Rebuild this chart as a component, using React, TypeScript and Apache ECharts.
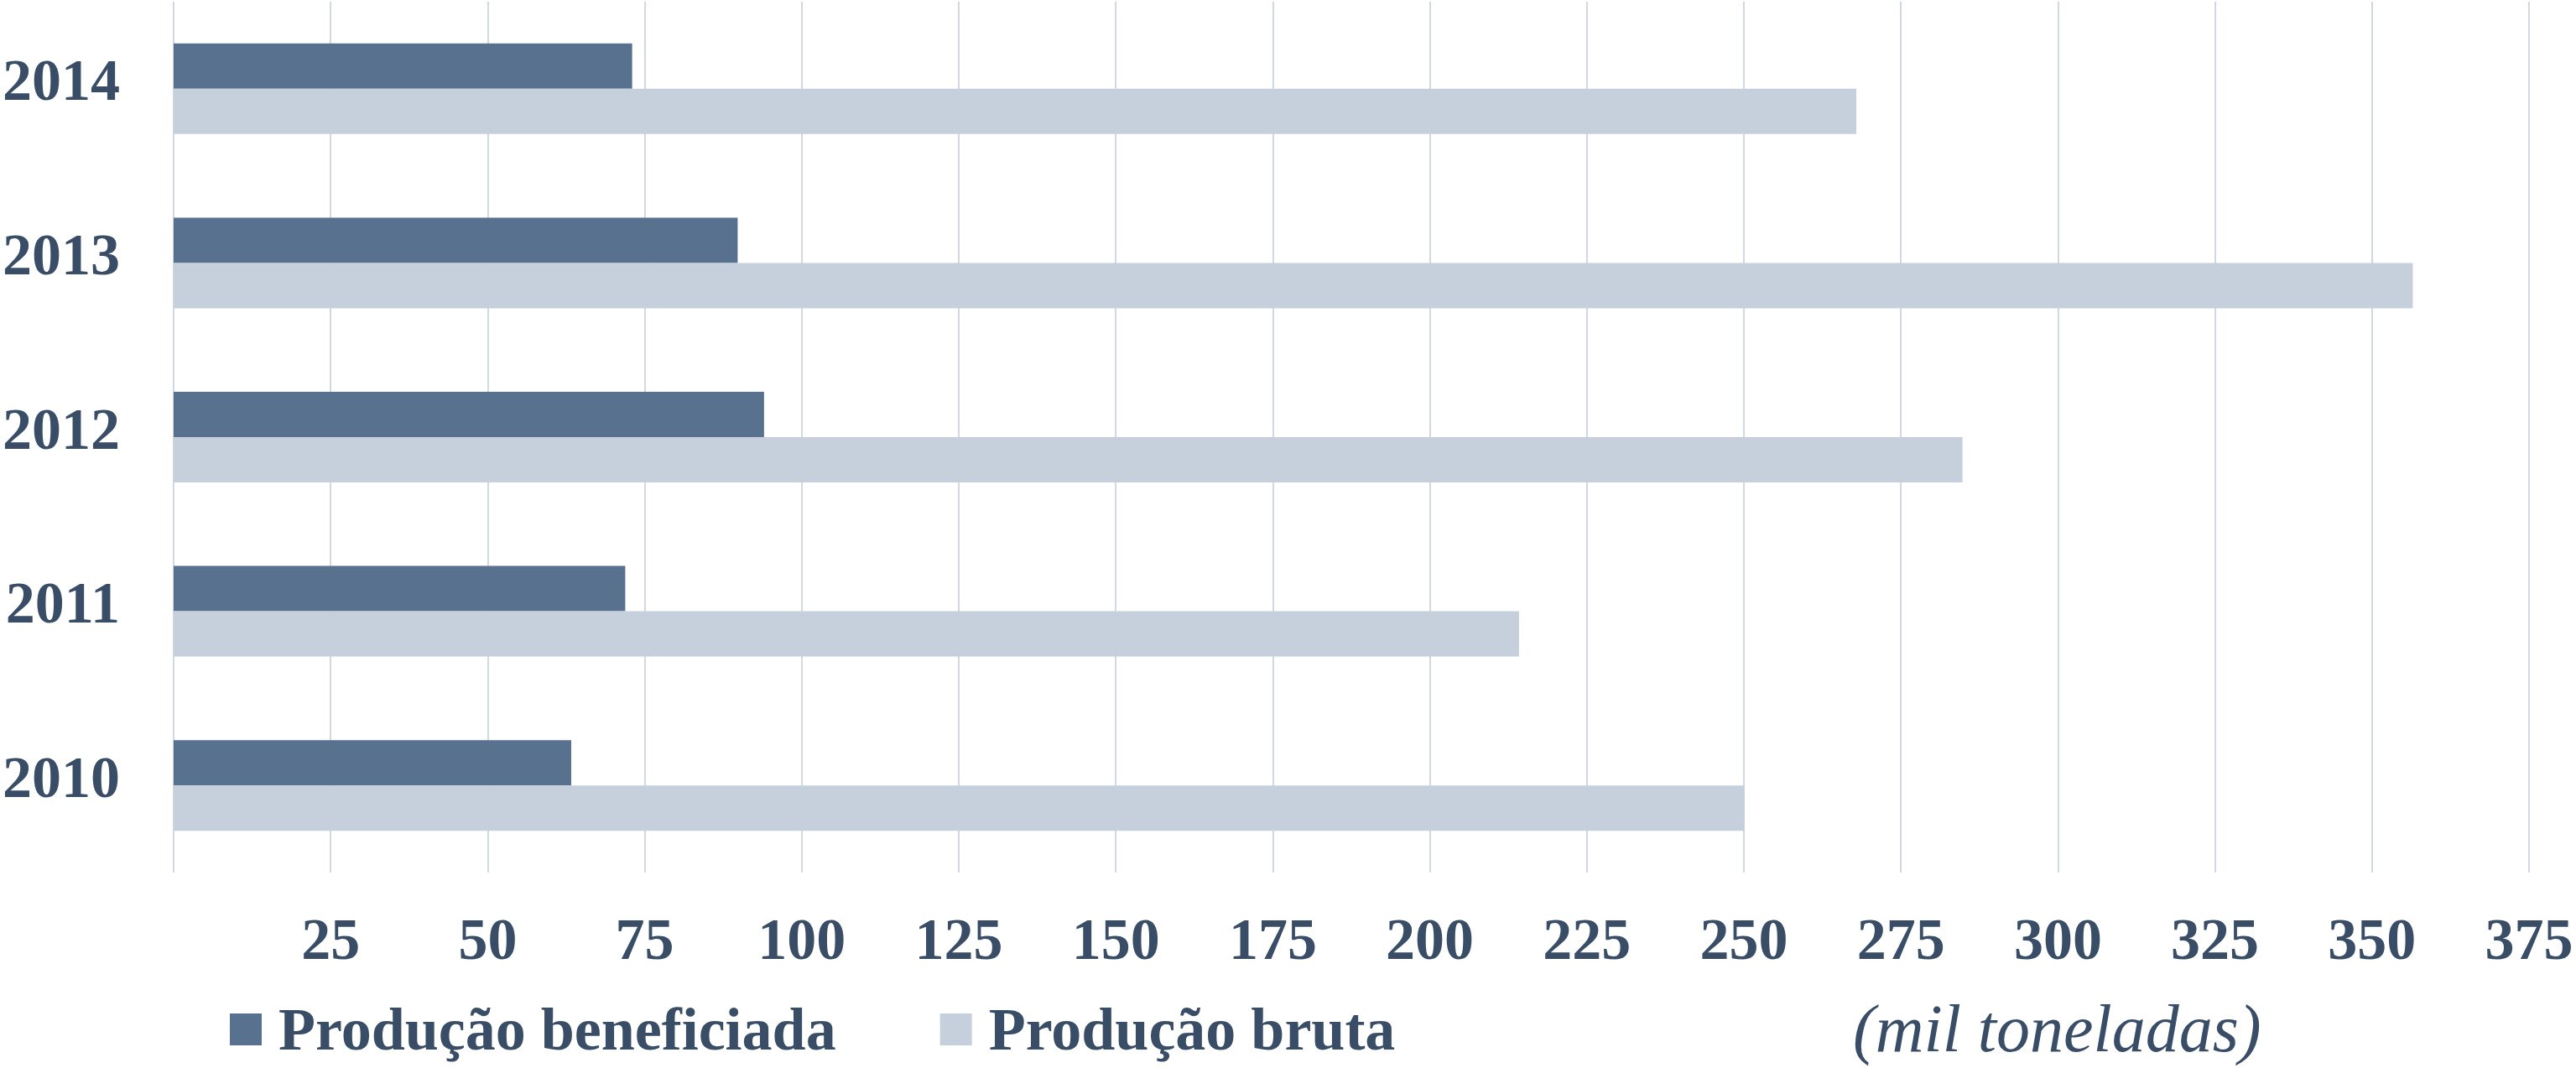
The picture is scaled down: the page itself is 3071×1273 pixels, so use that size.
import React, { useEffect, useRef } from "react";
import * as echarts from "echarts";

const years = ["2010", "2011", "2012", "2013", "2014"];
const beneficiada = [63.3, 71.9, 94.0, 89.8, 73.0];
const bruta = [250.1, 214.2, 284.8, 356.5, 267.9];
const seriesNames = ["Produção beneficiada", "Produção bruta"];
const unitLabel = "(mil toneladas)";

const TEXT = "#3a4d66";
const DARK = "#58718f";
const LIGHT = "#c6d0dc";
const GRID = "#d1d8e3";
const FONT = '"Liberation Serif", "DejaVu Serif", serif';

export default function App() {
  const ref = useRef<HTMLDivElement>(null);
  useEffect(() => {
    if (!ref.current) return;
    const chart = echarts.init(ref.current, null, { renderer: "svg" });
    chart.setOption({
      animation: false,
      backgroundColor: "#ffffff",
      textStyle: { fontFamily: FONT },
      grid: { left: 207, right: 56, top: 2, bottom: 233 },
      xAxis: {
        type: "value",
        min: 0,
        max: 375,
        interval: 25,
        axisLine: { show: false },
        axisTick: { show: false },
        splitLine: { show: true, lineStyle: { color: GRID, width: 2 } },
        axisLabel: {
          margin: 44,
          color: TEXT,
          fontFamily: FONT,
          fontWeight: "bold",
          fontSize: 70,
          formatter: (v: number) => (v === 0 ? "" : String(v)),
        },
      },
      yAxis: {
        type: "category",
        data: years,
        axisLine: { show: false },
        axisTick: { show: false },
        splitLine: { show: false },
        axisLabel: {
          margin: 64,
          color: TEXT,
          fontFamily: FONT,
          fontWeight: "bold",
          fontSize: 70,
          verticalAlign: "bottom",
          lineHeight: 20,
        },
      },
      legend: {
        data: seriesNames,
        left: 269,
        top: 1186,
        itemWidth: 38,
        itemHeight: 38,
        itemGap: 124,
        icon: "rect",
        textStyle: {
          color: TEXT,
          fontFamily: FONT,
          fontWeight: "bold",
          fontSize: 72,
          lineHeight: 72,
          padding: [0, 0, 0, 15],
        },
      },
      graphic: [
        {
          type: "text",
          left: 2209,
          top: 1186,
          style: {
            text: unitLabel,
            fill: TEXT,
            font: 'italic 80px "Liberation Serif", serif',
          },
        },
      ],
      series: [
        {
          name: seriesNames[0],
          type: "bar",
          data: beneficiada,
          barWidth: 54,
          barGap: "0%",
          itemStyle: { color: DARK },
        },
        {
          name: seriesNames[1],
          type: "bar",
          data: bruta,
          barWidth: 54,
          barGap: "0%",
          itemStyle: { color: LIGHT },
        },
      ],
    });
    return () => chart.dispose();
  }, []);
  return (
    <div
      ref={ref}
      style={{ position: "fixed", left: 0, top: 0, width: 3071, height: 1273 }}
    />
  );
}
